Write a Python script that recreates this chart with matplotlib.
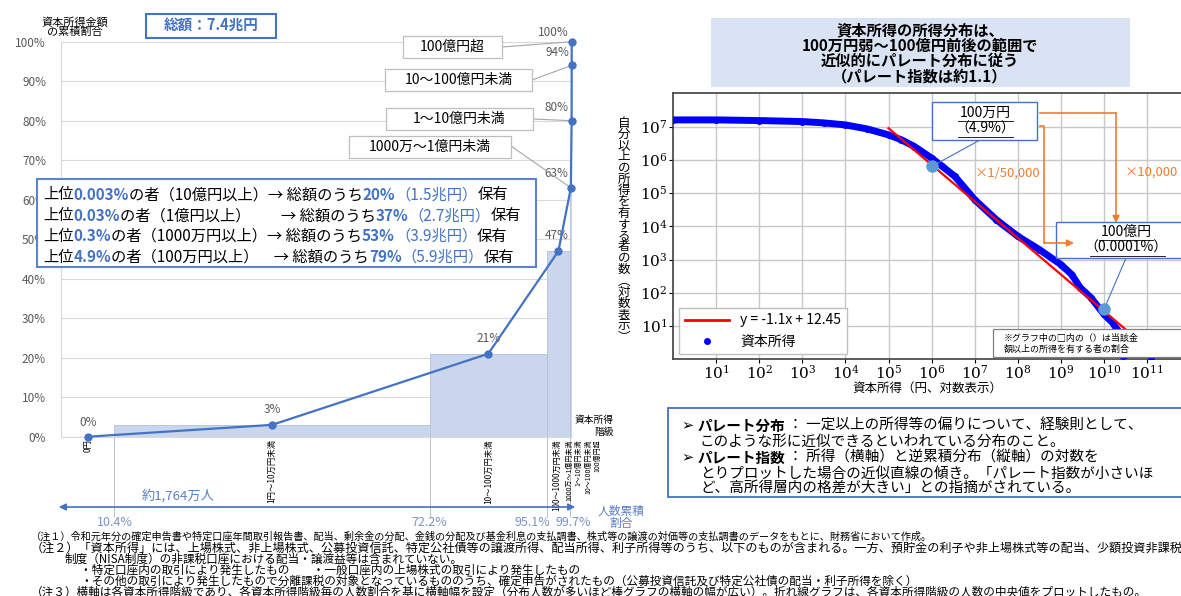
import matplotlib.pyplot as plt
import numpy as np
from matplotlib.lines import Line2D
from matplotlib.patches import Rectangle
from matplotlib.ticker import FuncFormatter

plt.rcParams['font.family'] = ['Noto Sans CJK JP', 'DejaVu Sans']
plt.rcParams['mathtext.fontset'] = 'dejavuserif'

W, H = 1181, 596

# ---------- 左：資本所得階級別の累積割合 ----------
classes = ["0円", "1円～10万円未満", "10～100万円未満", "100～1000万円未満",
           "1000万～1億円未満", "1～10億円未満", "10～100億円未満", "100億円超"]
pop_edges = [0, 10.4, 72.2, 95.1, 99.7, 99.97, 99.997, 99.9999, 100]  # 人数累積割合(%)
cum_share = [0, 3, 21, 47, 63, 80, 94, 100]                            # 資本所得金額の累積割合(%)
edge_marks = [10.4, 72.2, 95.1, 99.7]
edge_labels = ["10.4%", "72.2%", "95.1%", "99.7%"]

info_lines = [
    ["上位", "0.003%", "の者（10億円以上）→ 総額のうち", "20%", "（1.5兆円）", "保有"],
    ["上位", "0.03%", "の者（1億円以上）　　→ 総額のうち", "37%", "（2.7兆円）", "保有"],
    ["上位", "0.3%", "の者（1000万円以上）→ 総額のうち", "53%", "（3.9兆円）", "保有"],
    ["上位", "4.9%", "の者（100万円以上）　→ 総額のうち", "79%", "（5.9兆円）", "保有"],
]

# ---------- 右：パレート分布 ----------
curve_logx = [0.0, 1, 2, 3, 3.5, 4, 4.5, 5, 5.3, 5.6, 6, 6.25, 6.54, 7, 7.5, 8,
              8.5, 9, 9.25, 9.45, 9.7, 10, 10.2, 10.3, 10.4, 10.45, np.nan, 11.1]
curve_logy = [7.2, 7.2, 7.18, 7.15, 7.11, 7.05, 6.93, 6.75, 6.6, 6.4, 6.05, 5.8,
              5.5, 4.8, 4.2, 3.7, 3.3, 2.85, 2.55, 2.15, 1.85, 1.35, 1.1, 0.9,
              0.5, 0.1, np.nan, 0.05]
fit_slope, fit_icpt = -1.1, 12.45
fit_range = [5.0, 10.5]
pt_income = [1e6, 1e10]
pt_count = [6.3e5, 32]

BLUE = '#4472c4'
ORANGE = '#ed7d31'
GRAY_T = '#595959'

fig = plt.figure(figsize=(W / 100, H / 100), dpi=100)


def fr(l, t, r, b):
    return [l / W, 1 - b / H, (r - l) / W, (b - t) / H]


# overlay in pixel coords
ov = fig.add_axes([0, 0, 1, 1], zorder=5)
ov.set_xlim(0, W)
ov.set_ylim(H, 0)
ov.axis('off')
ov.patch.set_visible(False)

# ---------- 左のグラフ ----------
ax = fig.add_axes(fr(61.3, 41.7, 571.7, 436.7))
lefts = np.array(pop_edges[:-1])
widths = np.diff(pop_edges)
mids = lefts + widths / 2
ax.bar(lefts, cum_share, width=widths, align='edge', color='#cad6ec',
       edgecolor='#b3c1dc', linewidth=0.6, zorder=2)
ax.plot(mids, cum_share, color=BLUE, lw=1.6, marker='o', ms=5, zorder=4, clip_on=False)
ax.set_xlim(0, 100)
ax.set_ylim(0, 100)
ax.set_yticks(range(0, 101, 10))
ax.set_yticklabels([f"{v}%" for v in range(0, 101, 10)])
ax.set_xticks([])
ax.grid(axis='y', color='#d9d9d9', lw=0.8)
ax.set_axisbelow(True)
for s in ['top', 'right']:
    ax.spines[s].set_visible(False)
ax.spines['left'].set_color('#d9d9d9')
ax.spines['bottom'].set_color('#d9d9d9')
ax.tick_params(axis='y', length=0, pad=11, labelsize=8.5, labelcolor=GRAY_T)

# データラベル
lab_off = [(0, 10.5, 'center'), (0, 11, 'center'), (0, 11, 'center'), (-1, 11, 'center'),
           (-2, 10.5, 'right'), (-2, 9.5, 'right'), (-2, 9, 'right'), (-2, 6.5, 'right')]
for m, v, (dx, dy, ha) in zip(mids, cum_share, lab_off):
    ax.annotate(f"{v}%", xy=(m, v), xytext=(dx, dy), textcoords='offset points',
                ha=ha, va='center', fontsize=8.5, color=GRAY_T, annotation_clip=False)

# 階級ラベル（下）
cat_dx = [0, 0, 0, -1, -1.4, 5, 12.2, 18.7]
cat_fs = [6, 6, 6, 5.8, 5, 5, 5, 5]
for m, c, dx, fs in zip(mids, classes, cat_dx, cat_fs):
    ax.annotate(c, xy=(m, 0), xytext=(dx, -2), textcoords='offset points', rotation=90,
                ha='center', va='top', fontsize=fs, color='black', annotation_clip=False)

# 境界線と人数累積割合
ax.vlines(edge_marks, -20.3, 0, color='#bfbfbf', lw=0.7, clip_on=False)
lab_dx = [0, 0, -10, 2]
for e, l, dx in zip(edge_marks, edge_labels, lab_dx):
    ax.annotate(l, xy=(e, 0), xytext=(dx, -62), textcoords='offset points', ha='center',
                va='center', fontsize=9, color='#7a93c6', annotation_clip=False)

# コールアウト
boxes = {4: (349, 136, 511, 158), 5: (386, 108, 533, 130),
         6: (385, 69, 532, 91), 7: (403, 36, 502, 58)}
for i, (l, t, r, b) in boxes.items():
    ov.add_patch(Rectangle((l, t), r - l, b - t, fc='white', ec='#bfbfbf', lw=0.9))
    ov.text((l + r) / 2, (t + b) / 2, classes[i], ha='center', va='center', fontsize=10)
    ax.annotate('', xy=(mids[i], cum_share[i]), xytext=(r, (t + b) / 2 if i != 4 else t + 10),
                textcoords=ov.transData, annotation_clip=False,
                arrowprops=dict(arrowstyle='-', color='#a6a6a6', lw=0.8, shrinkA=0, shrinkB=0))

# 左上の見出し
ov.text(75, 27, "資本所得金額\nの累積割合", ha='center', va='center', fontsize=8,
        linespacing=1.0)
ov.add_patch(Rectangle((146, 14), 130, 24, fc='white', ec=BLUE, lw=1.5))
ov.text(211, 26, "総額：7.4兆円", ha='center', va='center', fontsize=10.5,
        fontweight='bold', color=BLUE)

ov.text(614, 420, "資本所得", ha='right', va='center', fontsize=7)
ov.text(614, 432, "階級", ha='right', va='center', fontsize=7)

# 情報ボックス
ov.add_patch(Rectangle((37, 179), 499, 88, fc='white', ec='#5b84d1', lw=1.5))
styles = [('black', 'normal'), (BLUE, 'bold'), ('black', 'normal'),
          (BLUE, 'bold'), (BLUE, 'normal'), ('black', 'normal')]
for k, parts in enumerate(info_lines):
    y = 195 + k * 20.7
    t = ov.text(43, y, parts[0], color='black', fontsize=11, va='center')
    for s, (c, w) in zip(parts[1:], styles[1:]):
        t = ov.annotate(s, xy=(1, 0.5), xycoords=t, va='center', ha='left',
                        color=c, fontweight=w, fontsize=11)

# 人数の矢印
ov.annotate('', xy=(578, 507), xytext=(56, 507),
            arrowprops=dict(arrowstyle='<|-|>', color=BLUE, lw=1.2, mutation_scale=10))
ov.text(178, 496, "約1,764万人", ha='center', va='center', fontsize=9.5, color='#5b7fc7')
ov.text(621, 511, "人数累積", ha='center', va='center', fontsize=8.5, color='#5b7fc7')
ov.text(621, 523, "割合", ha='center', va='center', fontsize=8.5, color='#5b7fc7')

# ---------- 右のグラフ ----------
ov.add_patch(Rectangle((711, 18), 419, 69, fc='#dae3f3', ec='none'))
title_lines = ["資本所得の所得分布は、", "100万円弱～100億円前後の範囲で",
               "近似的にパレート分布に従う", "（パレート指数は約1.1）"]
for k, s in enumerate(title_lines):
    ov.text(920, 30 + k * 15.4, s, ha='center', va='center', fontsize=11,
            fontweight='bold')

ax2 = fig.add_axes(fr(673, 93.3, 1181.6, 359.3))
ax2.set_xscale('log')
ax2.set_yscale('log')
ax2.plot(10 ** np.array(curve_logx), 10 ** np.array(curve_logy), color='#0000ff',
         lw=5, marker='o', ms=4, zorder=3)
fxr = np.array(fit_range)
ax2.plot(10 ** fxr, 10 ** (fit_slope * fxr + fit_icpt), color='red', lw=1.6, zorder=4)
ax2.plot(pt_income, pt_count, 'o', color='#5b9bd5', ms=8, zorder=5)
ax2.set_xlim(1, 10 ** 11.8)
ax2.set_ylim(1, 1e8)
ax2.set_xticks([10 ** k for k in range(1, 12)])
ax2.set_yticks([10 ** k for k in range(1, 8)])
ax2.minorticks_off()
fmt = FuncFormatter(lambda v, p: r'$10^{%d}$' % round(np.log10(v)))
ax2.xaxis.set_major_formatter(fmt)
ax2.yaxis.set_major_formatter(fmt)
ax2.grid(color='#c8c8c8', lw=1)
ax2.set_axisbelow(True)
for s in ax2.spines.values():
    s.set_color('#404040')
    s.set_linewidth(1.2)
ax2.tick_params(labelsize=11, length=3, pad=1)

handles = [Line2D([], [], color='red', lw=2),
           Line2D([], [], color='#0000ff', marker='o', ls='none', ms=4)]
ax2.legend(handles, ["y = -1.1x + 12.45", "資本所得"], loc='lower left',
           bbox_to_anchor=(0.012, 0.02), borderaxespad=0, fontsize=10,
           handlelength=3.2, fancybox=False, edgecolor='#bfbfbf', framealpha=1)

ax2.set_xlabel("資本所得（円、対数表示）", fontsize=9, labelpad=-1)
ylab = "自分以上の所得を有する者の数︵対数表示︶"
for k, ch in enumerate(ylab):
    ov.text(624, 123 + k * 11.27, ch, ha='center', va='center', fontsize=9)

# 注釈ボックス
ov.add_patch(Rectangle((932, 102), 105, 38, fc='white', ec=BLUE, lw=1))
ov.text(985, 113, "100万円", ha='center', va='center', fontsize=10)
ov.text(985, 129, "（4.9%）", ha='center', va='center', fontsize=10)
ov.plot([958, 1013], [121, 121], color='black', lw=0.6)
ov.plot([958, 1013], [137, 137], color='black', lw=0.6)
ax2.annotate('', xy=(pt_income[0], pt_count[0]), xytext=(980, 140), textcoords=ov.transData,
             arrowprops=dict(arrowstyle='-', color=BLUE, lw=0.8, shrinkA=0, shrinkB=3))

ov.add_patch(Rectangle((1056, 222), 140, 36, fc='white', ec=BLUE, lw=1))
ov.text(1126, 232, "100億円", ha='center', va='center', fontsize=10)
ov.text(1126, 248, "（0.0001%）", ha='center', va='center', fontsize=10)
ov.plot([1099, 1153], [240, 240], color='black', lw=0.6)
ov.plot([1090, 1165], [256, 256], color='black', lw=0.6)
ax2.annotate('', xy=(pt_income[1], pt_count[1]), xytext=(1126, 258), textcoords=ov.transData,
             arrowprops=dict(arrowstyle='-', color=BLUE, lw=0.8, shrinkA=0, shrinkB=3))

ov.plot([1040, 1116], [113, 113], color=ORANGE, lw=1.2)
ov.annotate('', xy=(1116, 223), xytext=(1116, 113),
            arrowprops=dict(arrowstyle='-|>', color=ORANGE, lw=1.2, mutation_scale=10,
                            shrinkA=0, shrinkB=0))
ov.plot([1040, 1044, 1044], [126, 126, 243], color=ORANGE, lw=1.2)
ov.annotate('', xy=(1074, 243), xytext=(1044, 243),
            arrowprops=dict(arrowstyle='-|>', color=ORANGE, lw=1.2, mutation_scale=10,
                            shrinkA=0, shrinkB=0))
ov.text(1007, 173, "×1/50,000", ha='center', va='center', fontsize=9.5, color=ORANGE)
ov.text(1151, 172, "×10,000", ha='center', va='center', fontsize=9.5, color=ORANGE)

ov.add_patch(Rectangle((993, 329), 200, 28, fc='white', ec='#808080', lw=0.9))
ov.text(1004, 338, "※グラフ中の□内の（）は当該金", ha='left', va='center', fontsize=6.5)
ov.text(1004, 349, "額以上の所得を有する者の割合", ha='left', va='center', fontsize=6.5)

# 説明ボックス
ov.add_patch(Rectangle((668, 408), 530, 89, fc='white', ec=BLUE, lw=1.3))
expl = [
    (426, [("➢ ", 'normal'), ("パレート分布", 'bold'), (" ： 一定以上の所得等の偏りについて、経験則として、", 'normal')], 682),
    (442, [("このような形に近似できるといわれている分布のこと。", 'normal')], 700),
    (458, [("➢ ", 'normal'), ("パレート指数", 'bold'), (" ： 所得（横軸）と逆累積分布（縦軸）の対数を", 'normal')], 682),
    (474, [("とりプロットした場合の近似直線の傾き。「パレート指数が小さいほ", 'normal')], 700),
    (489, [("ど、高所得層内の格差が大きい」との指摘がされている。", 'normal')], 700),
]
for y, parts, x0 in expl:
    t = ov.text(x0, y, parts[0][0], fontweight=parts[0][1], fontsize=10.5, va='center')
    for s, w in parts[1:]:
        t = ov.annotate(s, xy=(1, 0.5), xycoords=t, va='center', ha='left',
                        fontweight=w, fontsize=10.5)

# ---------- 注記 ----------
notes = [
    (31, "（注１）令和元年分の確定申告書や特定口座年間取引報告書、配当、剰余金の分配、金銭の分配及び基金利息の支払調書、株式等の譲渡の対価等の支払調書のデータをもとに、財務省において作成。", 7.3),
    (31, "（注２）「資本所得」には、上場株式、非上場株式、公募投資信託、特定公社債等の譲渡所得、配当所得、利子所得等のうち、以下のものが含まれる。一方、預貯金の利子や非上場株式等の配当、少額投資非課税", 8.7),
    (65, "制度（NISA制度）の非課税口座における配当・譲渡益等は含まれていない。", 8.4),
    (80, "・特定口座内の取引により発生したもの　　・一般口座内の上場株式の取引により発生したもの", 8.4),
    (80, "・その他の取引により発生したもので分離課税の対象となっているもののうち、確定申告がされたもの（公募投資信託及び特定公社債の配当・利子所得を除く）", 8.4),
    (31, "（注３）横軸は各資本所得階級であり、各資本所得階級毎の人数割合を基に横軸幅を設定（分布人数が多いほど棒グラフの横軸の幅が広い）。折れ線グラフは、各資本所得階級の人数の中央値をプロットしたもの。", 8.4),
]
for k, (x, s, fs) in enumerate(notes):
    ov.text(x, 537 + k * 11, s, ha='left', va='center', fontsize=fs)

fig.savefig("out.png", dpi=100)
